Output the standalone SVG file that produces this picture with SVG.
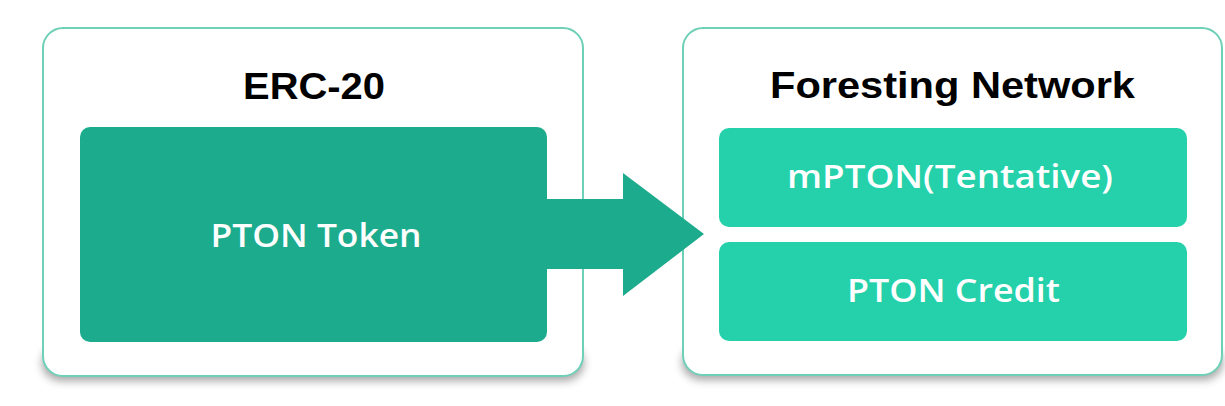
<svg xmlns="http://www.w3.org/2000/svg" width="1225" height="406" viewBox="0 0 1225 406">
  <defs>
    <filter id="shadow" x="-10%" y="-50%" width="120%" height="200%">
      <feGaussianBlur stdDeviation="4.5"/>
    </filter>
  </defs>
  <style>
    .outer { fill: #ffffff; stroke: #6fd0b8; stroke-width: 2; }
    .shadow { fill: #3a3a3a; opacity: 0.45; filter: url(#shadow); }
    .dark { fill: #1cab8d; }
    .light { fill: #24d1ab; }
    .title { font-family: "Liberation Sans", Arial, sans-serif; font-weight: bold; font-size: 37px; fill: #000000; text-anchor: middle; }
    .label { font-family: "Open Sans", "Liberation Sans", Arial, sans-serif; font-weight: 600; font-size: 33px; fill: #ffffff; text-anchor: middle; }
  </style>
  <rect width="1225" height="406" fill="#ffffff"/>

  <g id="erc20">
    <rect class="shadow" x="42" y="345" width="542" height="36" rx="20"/>
    <rect class="outer" x="43" y="28" width="540" height="348" rx="20"/>
    <text class="title" x="314" y="99" textLength="142" lengthAdjust="spacingAndGlyphs">ERC-20</text>
  </g>

  <g id="pton-token">
    <rect class="dark" x="80" y="127" width="467" height="215" rx="10"/>
    <text class="label" x="316" y="247" textLength="211" lengthAdjust="spacingAndGlyphs">PTON Token</text>
  </g>

  <g id="foresting-network">
    <rect class="shadow" x="682" y="345" width="541" height="35" rx="20"/>
    <rect class="outer" x="683" y="28" width="539" height="347" rx="20"/>
    <text class="title" x="952.5" y="98" textLength="365" lengthAdjust="spacingAndGlyphs">Foresting Network</text>
  </g>

  <g id="mpton">
    <rect class="light" x="719" y="128" width="468" height="99" rx="10"/>
    <text class="label" x="950" y="188" textLength="326" lengthAdjust="spacingAndGlyphs">mPTON(Tentative)</text>
  </g>

  <g id="pton-credit">
    <rect class="light" x="719" y="242" width="468" height="99" rx="10"/>
    <text class="label" x="953.5" y="302" textLength="213" lengthAdjust="spacingAndGlyphs">PTON Credit</text>
  </g>

  <g id="connectors">
    <polygon class="dark" points="545,199 623,199 623,173 704,234 623,296 623,269 545,269"/>
  </g>
</svg>
